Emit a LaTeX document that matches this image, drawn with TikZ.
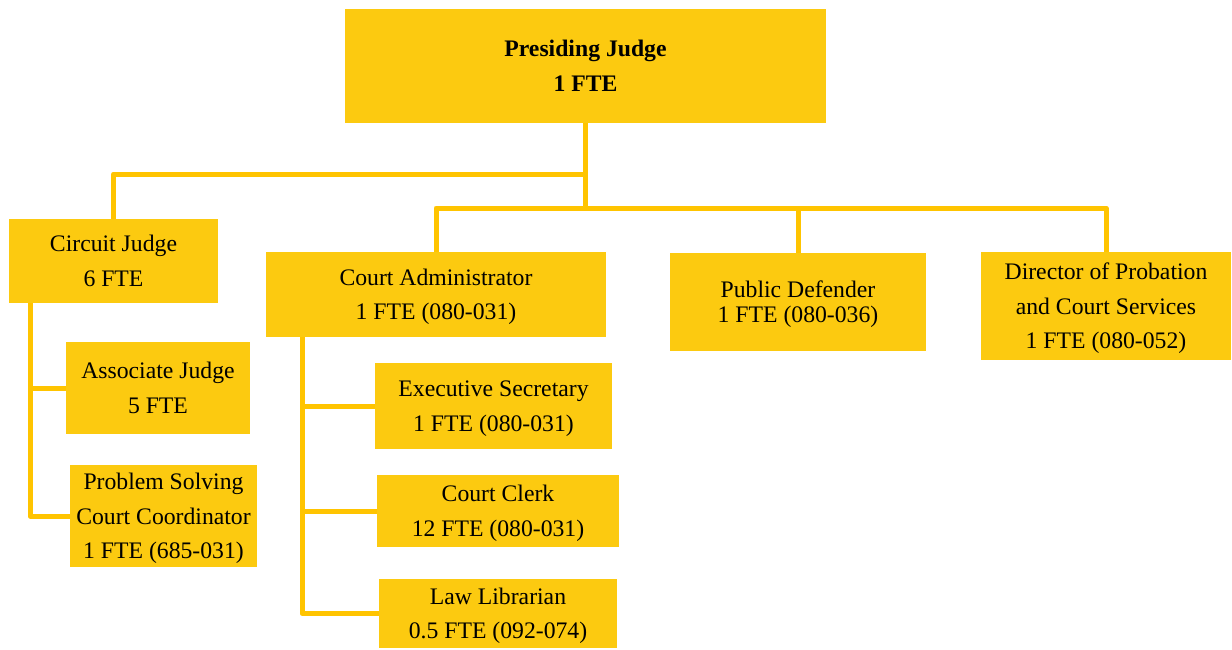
\documentclass[tikz,border=0pt]{standalone}
\usepackage{fontspec}
\setmainfont{Liberation Serif}
\definecolor{boxfill}{RGB}{252,202,16}
\definecolor{linecol}{RGB}{255,196,0}
\begin{document}
\begin{tikzpicture}[x=1pt,y=-1pt,
  orgbox/.style={fill=boxfill,draw=none,inner sep=0pt,align=center,text depth=0pt,
    font=\fontsize{23.7}{34.5}\selectfont},
  link/.style={draw=linecol,line width=5pt,line join=round}]
\useasboundingbox (0,0) rectangle (1232,649);
\fill[white] (0,0) rectangle (1232,649);
% boxes (centre, width, height)
\node[orgbox,minimum width=481pt,minimum height=114pt,font=\bfseries\fontsize{23.7}{35}\selectfont] (pj) at (585.5,66) {Presiding Judge\\1 FTE};
\node[orgbox,minimum width=209pt,minimum height=84pt] (cj) at (113.5,261) {Circuit Judge\\6 FTE};
\node[orgbox,minimum width=184pt,minimum height=92pt] (aj) at (158,388) {Associate Judge\\5 FTE};
\node[orgbox,minimum width=187pt,minimum height=102pt] (ps) at (163.5,516) {Problem Solving\\Court Coordinator\\1 FTE (685-031)};
\node[orgbox,minimum width=340pt,minimum height=85pt] (ca) at (436,294.5) {Court Administrator\\1 FTE (080-031)};
\node[orgbox,minimum width=237pt,minimum height=86pt] (es) at (493.5,406) {Executive Secretary\\1 FTE (080-031)};
\node[orgbox,minimum width=242pt,minimum height=72pt] (cc) at (498,511) {Court Clerk\\12 FTE (080-031)};
\node[orgbox,minimum width=238pt,minimum height=69pt] (ll) at (498,613.5) {Law Librarian\\0.5 FTE (092-074)};
\node[orgbox,minimum width=256pt,minimum height=98pt,font=\fontsize{23.7}{25}\selectfont] (pd) at (798,302) {Public Defender\\1 FTE (080-036)};
\node[orgbox,minimum width=250pt,minimum height=108pt] (dir) at (1106,306) {Director of Probation\\and Court Services\\1 FTE (080-052)};
% junctions
\coordinate (j1) at (585.5,174);
\coordinate (j2) at (585.5,208);
\coordinate (cjs) at (30,303);
\coordinate (cas) at (302,337);
% connectors
\draw[link] (pj.south) -- (j2);
\draw[link] (j1) -| (cj.north);
\draw[link] (j2) -| (ca.north);
\draw[link] (j2) -| (pd.north);
\draw[link] (j2) -| (dir.north);
\draw[link] (cjs) |- (aj.west);
\draw[link] (cjs) |- (ps.west);
\draw[link] (cas) |- (es.west);
\draw[link] (cas) |- (cc.west);
\draw[link] (cas) |- (ll.west);
\end{tikzpicture}
\end{document}
